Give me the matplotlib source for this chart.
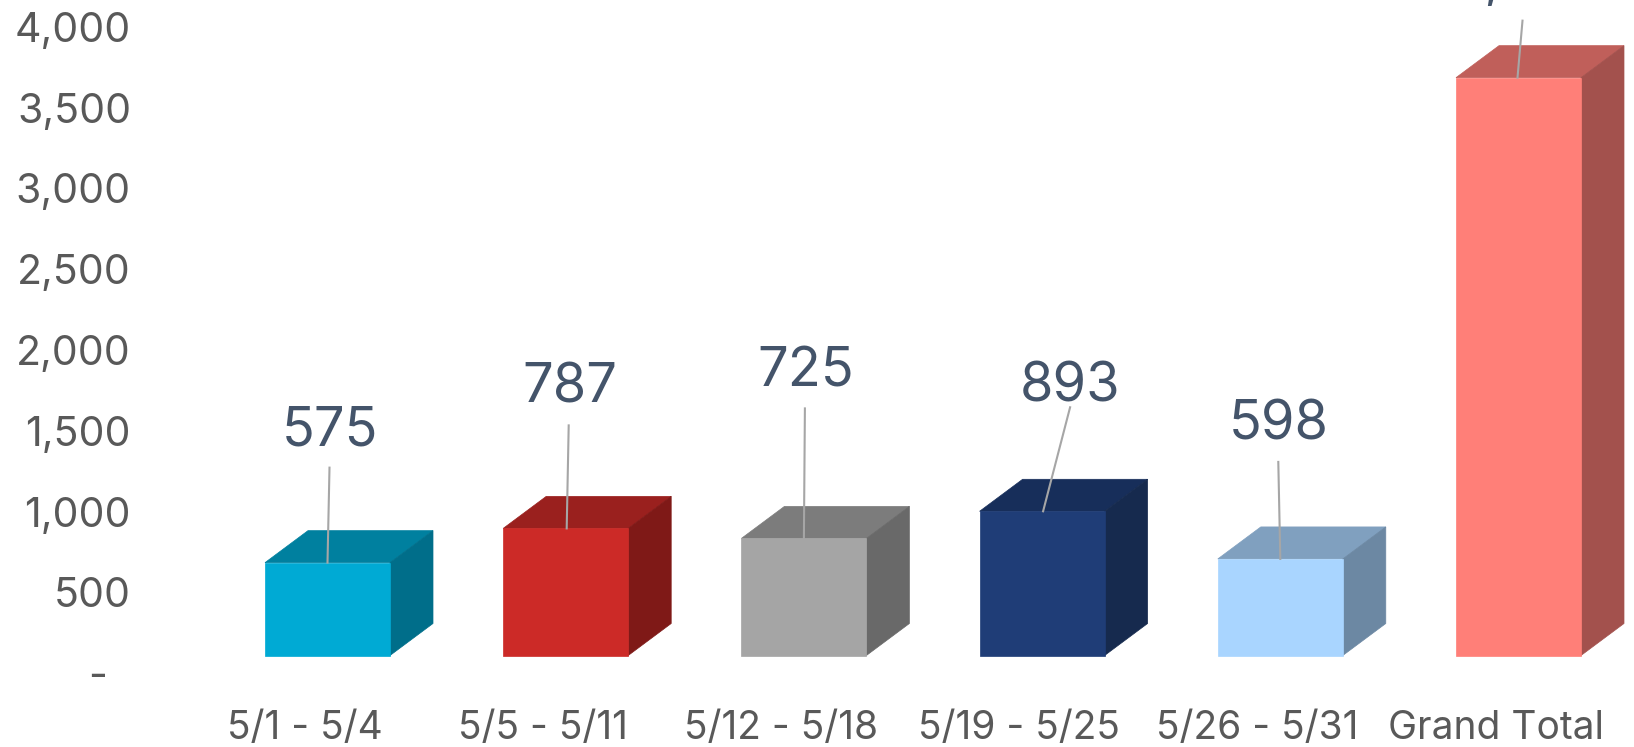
from matplotlib import pyplot as plt

categories = ['5/1 - 5/4', '5/5 - 5/11', '5/12 - 5/18', '5/19 - 5/25', '5/26 - 5/31', 'Grand Total']
values = [575, 787, 725, 893, 598, 3578]
value_labels = ['575', '787', '725', '893', '598', '3,578']
y_ticks = [0, 500, 1000, 1500, 2000, 2500, 3000, 3500, 4000]
y_tick_labels = ['-  ', '500', '1,000', '1,500', '2,000', '2,500', '3,000', '3,500', '4,000']

front_colors = ['#00AAD4', '#CC2A27', '#A5A5A5', '#1F3D77', '#A9D5FF', '#FF7F78']
top_colors = ['#00809F', '#9A201E', '#7C7C7C', '#172E5A', '#80A0BF', '#C05F5A']
side_colors = ['#006E8A', '#7F1917', '#696969', '#162A4E', '#6C88A3', '#A3514D']

# label centre and leader ends, as pixel offsets from the bar's top front edge centre
label_offsets = [(2, 132), (4, 140), (2, 166), (28, 124), (-2, 134), (6, 96)]
leader_starts = [(2, 95), (3, 103), (1, 130), (28, 104), (-2, 97), (4, 57)]
leader_ends = [(0, 0), (1, 0), (0, 0), (1, 0), (0, 0), (-1, 0)]

W, H = 1634, 747
PX_PER_UNIT = 0.1615   # vertical pixels for one unit
PX_PER_CAT = 238.2     # horizontal pixels between bars
ZERO_Y = 673           # pixel row of the 0 tick
AX_LEFT = 131
AX_BOTTOM = 700
FIRST_X = 327.5
LABEL_SHIFT = 23       # x tick labels sit left of the bars

bar_w = 125 / PX_PER_CAT
depth_x = 43 / PX_PER_CAT
depth_y = 32 / PX_PER_UNIT
floor = 17.5 / PX_PER_UNIT   # bars sit above the 0 tick

plt.rcParams['font.family'] = ['Inter', 'DejaVu Sans']

fig = plt.figure(figsize=(W / 100, H / 100), dpi=100)
ax = fig.add_axes([AX_LEFT / W, (H - AX_BOTTOM) / H, (W - AX_LEFT) / W, AX_BOTTOM / H])
ax.set_xlim((AX_LEFT - FIRST_X) / PX_PER_CAT, (W - FIRST_X) / PX_PER_CAT)
ax.set_ylim((ZERO_Y - AX_BOTTOM) / PX_PER_UNIT, ZERO_Y / PX_PER_UNIT)

for i, v in enumerate(values):
    l = i - bar_w / 2
    r = i + bar_w / 2
    b = floor
    t = floor + v
    ax.fill([l, r, r, l], [b, b, t, t], color=front_colors[i], lw=0.5, zorder=3)
    ax.fill([l, r, r + depth_x, l + depth_x], [t, t, t + depth_y, t + depth_y],
            color=top_colors[i], lw=0.5, zorder=2)
    ax.fill([r, r + depth_x, r + depth_x, r], [b, b + depth_y, t + depth_y, t],
            color=side_colors[i], lw=0.5, zorder=2)

    # leader line and value label, placed in pixels from the bar top
    x0, y0 = ax.transData.transform((i, t))
    ax.plot([x0 + leader_starts[i][0], x0 + leader_ends[i][0]],
            [y0 + leader_starts[i][1], y0 + leader_ends[i][1]],
            transform=None, color='#A6A6A6', lw=1.5, zorder=5, clip_on=False)
    ax.text(x0 + label_offsets[i][0], y0 + label_offsets[i][1], value_labels[i],
            transform=None, color='#44546A', fontsize=39, ha='center', va='center',
            clip_on=False)

ax.set_xticks([i - LABEL_SHIFT / PX_PER_CAT for i in range(len(categories))])
ax.set_xticklabels(categories, fontsize=28, color='#595959')
ax.set_yticks(y_ticks)
ax.set_yticklabels(y_tick_labels, fontsize=29.5, color='#595959')
ax.tick_params(length=0, axis='y', pad=0)
ax.tick_params(length=0, axis='x', pad=7)
for s in ax.spines.values():
    s.set_visible(False)
ax.patch.set_visible(False)

fig.savefig('out.png', dpi=100)
